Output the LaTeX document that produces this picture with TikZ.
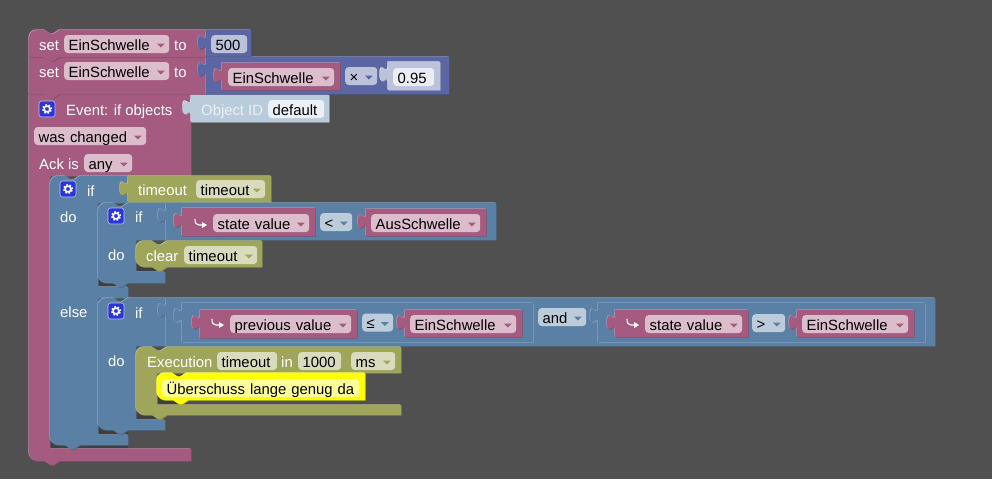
\documentclass[tikz,border=0pt]{standalone}
\usepackage{fontspec}
\setmainfont{Liberation Sans}
\usetikzlibrary{positioning}

\definecolor{canvasbg}{HTML}{505050}
\definecolor{gapdark}{HTML}{3F3F3F}
\definecolor{pinkfill}{HTML}{A55B80}
\definecolor{pinklight}{HTML}{C58FAA}
\definecolor{pinkdark}{HTML}{844966}
\definecolor{pinkpill}{HTML}{DBBDCC}
\definecolor{bluefill}{HTML}{5B80A5}
\definecolor{bluelight}{HTML}{8CA6C0}
\definecolor{bluedark}{HTML}{496684}
\definecolor{bluepill}{HTML}{BDCCDB}
\definecolor{framefill}{HTML}{5B80A5}
\definecolor{framelight}{HTML}{8CA6C0}
\definecolor{framedark}{HTML}{8CA6C0}
\definecolor{mathfill}{HTML}{5B67A5}
\definecolor{mathlight}{HTML}{8C95C0}
\definecolor{mathdark}{HTML}{495284}
\definecolor{mathpill}{HTML}{BDC2DB}
\definecolor{shadefill}{HTML}{BDC2DB}
\definecolor{shadelight}{HTML}{DDE0EE}
\definecolor{shadedark}{HTML}{9CA1B5}
\definecolor{shadepill}{HTML}{EBEDF5}
\definecolor{olivefill}{HTML}{9FA55B}
\definecolor{olivelight}{HTML}{BCC08C}
\definecolor{olivedark}{HTML}{7F8449}
\definecolor{olivepill}{HTML}{D9DBBD}
\definecolor{idfill}{HTML}{BACCDC}
\definecolor{idlight}{HTML}{D6E0EA}
\definecolor{iddark}{HTML}{95A5B2}
\definecolor{idpill}{HTML}{EAF0F5}
\definecolor{yellowfill}{HTML}{FFFF00}
\definecolor{yellowlight}{HTML}{FFFF66}
\definecolor{yellowdark}{HTML}{CCCC00}
\definecolor{yellowpill}{HTML}{FFFF99}
\definecolor{gearblue}{HTML}{2A35D8}

% edges of a block
\newcommand{\notchr}{-- ++(6,4) -- ++(3,0) -- ++(6,-4)}
\newcommand{\notchl}{-- ++(-6,4) -- ++(-3,0) -- ++(-6,-4)}
\newcommand{\tabup}{.. controls +(0,-10) and +(0,15.5) .. ++(-8,-7.5) .. controls +(0,-15.5) and +(0,10) .. ++(8,-7.5)}
\newcommand{\cornertl}[2]{(#1,#2+8) .. controls (#1,#2+3.6) and (#1+3.6,#2) .. (#1+8,#2)}
\newcommand{\cornerbl}[2]{-- (#1+8,#2) .. controls (#1+3.6,#2) and (#1,#2-3.6) .. (#1,#2-8)}

% block in three layers: colour name, then path
\newcommand{\block}[2]{%
  \fill[#1dark,shift={(.7,.7)}] #2;
  \fill[#1light,shift={(-.7,-.7)}] #2;
  \fill[#1fill] #2;}
% value block with a tab on its left edge: colour, x1, y1, x2, y2
\newcommand{\valblock}[5]{%
  \block{#1}{(#2,#3) -- (#4,#3) -- (#4,#5) -- (#2,#5) -- (#2,#3+20) \tabup -- cycle}}
% text field: name, x1, x2, y, colour, text
\newcommand{\textfield}[6]{%
  \node[pill, fill=#5, text width={#3-#2-9}] (#1) at (#2,#4) {#6};}
% dropdown: name, x1, x2, y, colour, text
\newcommand{\dropdown}[6]{%
  \textfield{#1}{#2}{#3}{#4}{#5pill}{#6}
  \fill[#5fill] ([xshift=-12.5pt,yshift=.5pt]#1.east) -- ++(8,0) -- ++(-4,4) -- cycle;}
% gear button: name, x, y
\newcommand{\gearbtn}[3]{%
  \node[gearbox] (#1) at (#2,#3) {};
  \draw[white, line width=1.5pt] (#1.center) circle (2.9pt);
  \draw[white, line width=1.5pt, dash pattern=on 1.7pt off 1.76pt] (#1.center) circle (4.4pt);}
% return arrow: x, y
\newcommand{\hookarrow}[2]{%
  \draw[white, line width=1.1pt] (#1,#2) .. controls (#1,#2+4) and (#1+1,#2+6) .. (#1+4,#2+6) -- (#1+8,#2+6);
  \fill[white] (#1+12,#2+6) -- (#1+7,#2+3) -- (#1+7,#2+9) -- cycle;}

\begin{document}
\begin{tikzpicture}[
  x=1pt, y=-1pt,
  lbl/.style={anchor=west, inner sep=0pt, text=white, font=\fontsize{14.85}{16}\selectfont, text height=11pt, text depth=1pt},
  pill/.style={anchor=west, rounded corners=3.5pt, inner xsep=4.5pt, inner ysep=0pt, minimum height=18pt, align=left, text=black,
    font=\fontsize{14.85}{16}\selectfont, text height=13pt, text depth=1pt},
  gearbox/.style={draw=white!70!gearblue, fill=gearblue, rounded corners=2.5pt, line width=.6pt, minimum size=16pt, inner sep=0pt}
]
\fill[canvasbg] (0,0) rectangle (992,479);

% dark gaps under the inner stacks
\fill[gapdark] (50,430) rectangle (128,449);
\fill[gapdark] (98,270) rectangle (128,287);
\fill[gapdark] (98,415) rectangle (128,435);
\fill[gapdark] (136,255) rectangle (165,272);
\fill[gapdark] (136,400) rectangle (165,420);
\fill[gapdark] (157,385) rectangle (187,405);

% event block
\block{pink}{(29,95) -- (44.5,95) \notchr -- (191,95) -- (191,176) -- (50,176) -- (50,449) -- (191,449) -- (191,461) -- (59.5,461) \notchl \cornerbl{29}{461} -- cycle}
\valblock{id}{191}{95}{329}{122}
\node[lbl, text=idpill] (objectid) at (201,110) {Object ID};
\textfield{objectdefault}{268}{324}{109}{idpill}{default}
\gearbtn{gearevent}{47}{109}
\node[lbl] (eventlabel) at (66,110) {Event: if objects};
\dropdown{waschanged}{34}{146}{136}{pink}{was changed}
\node[lbl] (acklabel) at (39,164) {Ack is};
\dropdown{ackany}{84}{132}{163}{pink}{any}

% outer if
\block{blue}{\cornertl{50}{176} -- (65,176) \notchr -- (128,176) -- (128,203) -- (98,203) -- (98,287) -- (128,287) -- (128,298) -- (98,298) -- (98,435) -- (128,435) -- (128,445) -- (80,445) \notchl \cornerbl{50}{445} -- cycle}
\gearbtn{gearouter}{68}{189}
\node[lbl] (ifouter) at (87,191) {if};
\node[lbl] (doouter) at (60,217) {do};
\node[lbl] (elseouter) at (60,312) {else};
\valblock{olive}{128}{176}{271}{202}
\node[lbl] (timeoutlabel) at (138,190) {timeout};
\dropdown{timeoutcond}{196}{265}{189}{olive}{timeout}

% first inner if
\block{blue}{\cornertl{98}{203} -- (113,203) \notchr -- (166,203) -- (166,240) -- (136,240) -- (136,272) -- (165,272) -- (165,283) -- (128,283) \notchl \cornerbl{98}{283} -- cycle}
\gearbtn{gearfirst}{116}{216}
\node[lbl] (iffirst) at (135,217) {if};
\node[lbl] (dofirst) at (108,255) {do};
\valblock{blue}{166}{203}{496}{240}
\valblock{pink}{182}{208}{315}{236}
\hookarrow{195}{219}
\dropdown{statefirst}{213}{309}{223}{pink}{state value}
\dropdown{ltop}{320}{352}{222}{blue}{<}
\valblock{pink}{366}{209}{486}{236}
\dropdown{ausschwelle}{371}{480}{223}{pink}{AusSchwelle}
\block{olive}{\cornertl{136}{241} -- (152,241) \notchr -- (262,241) -- (262,267) -- (167,267) \notchl \cornerbl{136}{267} -- cycle}
\node[lbl] (clearlabel) at (146,256) {clear};
\dropdown{cleartimeout}{184}{257}{255}{olive}{timeout}

% second inner if
\block{blue}{\cornertl{98}{298} -- (113,298) \notchr -- (166,298) -- (166,346) -- (136,346) -- (136,420) -- (165,420) -- (165,430) -- (128,430) \notchl \cornerbl{98}{430} -- cycle}
\gearbtn{gearsecond}{116}{311}
\node[lbl] (ifsecond) at (135,313) {if};
\node[lbl] (dosecond) at (108,361) {do};
\valblock{blue}{166}{298}{935}{346}
\valblock{frame}{182}{303}{533}{342}
\valblock{pink}{200}{310}{357}{338}
\hookarrow{212}{319}
\dropdown{previousval}{230}{351}{324}{pink}{previous value}
\dropdown{leqop}{362}{393}{322.5}{blue}{≤}
\valblock{pink}{405}{310}{522}{337}
\dropdown{einleft}{410}{516}{324}{pink}{EinSchwelle}
\dropdown{andop}{538}{586}{317}{blue}{and}
\valblock{frame}{598}{303}{925}{342}
\valblock{pink}{615}{310}{748}{337}
\hookarrow{627}{319}
\dropdown{stateright}{645}{742}{324}{pink}{state value}
\dropdown{gtop}{752}{785}{323}{blue}{>}
\valblock{pink}{797}{310}{914}{337}
\dropdown{einright}{802}{908}{324}{pink}{EinSchwelle}

% execution
\block{olive}{\cornertl{136}{347} -- (152,347) \notchr -- (401,347) -- (401,373) -- (157,373) -- (157,405) -- (401,405) -- (401,415) -- (167,415) \notchl \cornerbl{136}{415} -- cycle}
\node[lbl] (execlabel) at (147,362) {Execution};
\textfield{exectimeout}{217}{277}{361}{olivepill}{timeout}
\node[lbl] (inlabel) at (281,362) {in};
\textfield{execdelay}{298}{341}{361}{olivepill}{1000}
\dropdown{execunit}{351}{395}{361}{olive}{ms}
\block{yellow}{\cornertl{157}{373} -- (172,373) \notchr -- (365,373) -- (365,400) -- (188,400) \notchl \cornerbl{157}{400} -- cycle}
\textfield{commenttext}{162}{359}{388}{yellowpill}{Überschuss lange genug da}

% set blocks
\block{pink}{(29,57) -- (44.5,57) \notchr -- (206,57) -- (206,94) -- (59.5,94) \notchl -- (29,94) -- cycle}
\node[lbl] (setsecond) at (39,72) {set};
\dropdown{einsecond}{64}{169}{71}{pink}{EinSchwelle}
\node[lbl] (tosecond) at (174,72) {to};
\valblock{math}{206}{57}{449}{94}
\valblock{pink}{222}{63}{340}{90}
\dropdown{einmath}{228}{334}{77}{pink}{EinSchwelle}
\dropdown{timesop}{345}{377}{76}{math}{×}
\valblock{shade}{388}{62}{440}{90}
\textfield{factor}{393}{434}{77}{shadepill}{0.95}
\block{pink}{\cornertl{29}{30} -- (44.5,30) \notchr -- (206,30) -- (206,57) -- (59.5,57) \notchl -- (29,57) -- cycle}
\node[lbl] (setfirst) at (39,45) {set};
\dropdown{einfirst}{64}{169}{44}{pink}{EinSchwelle}
\node[lbl] (tofirst) at (174,45) {to};
\valblock{math}{206}{30}{251}{56}
\textfield{fivehundred}{211}{247}{44}{mathpill}{500}
\end{tikzpicture}
\end{document}
